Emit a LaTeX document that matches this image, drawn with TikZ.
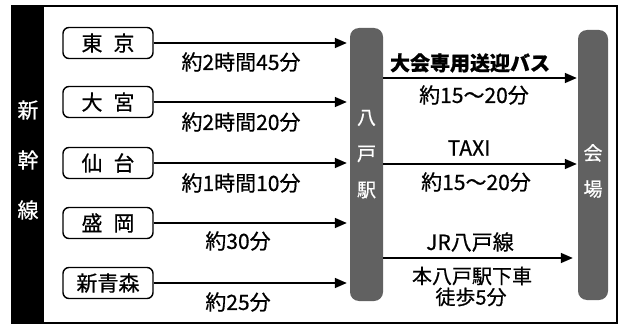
\documentclass[tikz,border=0pt]{standalone}
\usepackage{fontspec}
\setmainfont{Noto Sans CJK JP}[FakeBold=0.6]
\usetikzlibrary{arrows.meta}
\definecolor{bargray}{gray}{0.38}
\tikzset{
  stn/.style={draw, line width=1.4pt, rounded corners=6pt, minimum width=90pt, minimum height=31pt, inner sep=0pt, font=\fontsize{21}{23}\selectfont},
  bar/.style={fill=bargray, rounded corners=9pt, inner sep=0pt},
  bartxt/.style={text=white, font=\fontsize{19}{21}\selectfont, inner sep=0pt},
  sidetxt/.style={text=white, font=\fontsize{21}{23}\selectfont, inner sep=0pt},
  lbl/.style={font=\fontsize{21}{23}\selectfont, inner sep=0pt},
  smlbl/.style={font=\fontsize{20}{22}\selectfont, inner sep=0pt},
  arr/.style={line width=1.6pt, -{Triangle[length=12pt,width=10pt]}},
}
\begin{document}
\begin{tikzpicture}[x=1pt,y=-1pt]
\useasboundingbox (0,0) rectangle (621,329);
% frame
\fill[white] (0,0) rectangle (621,329);
\draw[line width=1.3pt] (12,6) rectangle (617,323);
\fill[black] (12,6) rectangle (44,323);
\node[sidetxt] (s1) at (28,110) {新};
\node[sidetxt] (s2) at (28,160) {幹};
\node[sidetxt] (s3) at (28,210) {線};
% bars
\node[bar, minimum width=33pt, minimum height=273pt] (hachi) at (366.5,164.5) {};
\node[bar, minimum width=30pt, minimum height=270pt] (kaijo) at (593,165) {};
\node[bartxt] (h1) at (366.5,118) {八};
\node[bartxt] (h2) at (366.5,154) {戸};
\node[bartxt] (h3) at (366.5,190) {駅};
\node[bartxt] (k1) at (593,153) {会};
\node[bartxt] (k2) at (593,189) {場};
% stations
\node[stn] (tokyo) at (108,43) {東\hspace{11pt}京};
\node[stn] (omiya) at (108,102) {大\hspace{11pt}宮};
\node[stn] (sendai) at (108,163) {仙\hspace{11pt}台};
\node[stn] (morioka) at (108,223) {盛\hspace{11pt}岡};
\node[stn] (aomori) at (108,283) {新青森};
% left arrows
\foreach \s in {tokyo,omiya,sendai,morioka,aomori}
  \draw[arr, shorten >=3pt] (\s.east) -- (\s.east -| hachi.west);
\node[lbl] (t1) at (241,62) {約2時間45分};
\node[lbl] (t2) at (241,122) {約2時間20分};
\node[lbl] (t3) at (241,183) {約1時間10分};
\node[lbl] (t4) at (238,241) {約30分};
\node[lbl] (t5) at (238,302) {約25分};
% right arrows
\coordinate (bus) at (470,78);
\coordinate (taxi) at (470,164);
\coordinate (jr) at (470,258);
\draw[arr] (hachi.east |- bus) -- ([xshift=-1pt]kaijo.west |- bus);
\draw[arr] (hachi.east |- taxi) -- ([xshift=-1pt]kaijo.west |- taxi);
\draw[arr] (hachi.east |- jr) -- ([xshift=-5pt]kaijo.west |- jr);
\node[lbl, font=\fontsize{20}{22}\selectfont\bfseries] (b1) at (470,63) {大会専用送迎バス};
\node[lbl] (b2) at (474,95) {約15〜20分};
\node[lbl] (x1) at (469,148) {TAXI};
\node[lbl] (x2) at (476,182) {約15〜20分};
\node[lbl] (j1) at (470,242) {JR八戸線};
\node[smlbl] (j2) at (472,276) {本八戸駅下車};
\node[smlbl] (j3) at (471,297) {徒歩5分};
\end{tikzpicture}
\end{document}
